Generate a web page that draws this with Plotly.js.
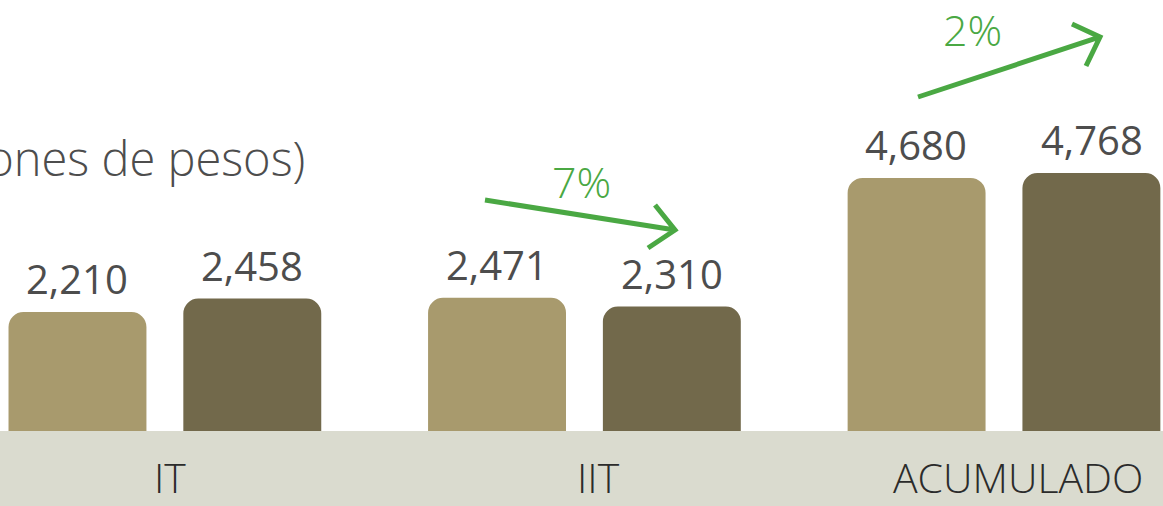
<!DOCTYPE html>
<html>
<head>
<meta charset="utf-8">
<script src="https://cdn.plot.ly/plotly-3.0.1.min.js"></script>
<style>html,body{margin:0;padding:0;background:#fff;overflow:hidden}#chart{width:1163px;height:506px}</style>
</head>
<body>
<div id="chart"></div>
<script>
// ---- data ----
const categories = ["IT", "IIT", "ACUMULADO"];
const seriesPrev = [2210, 2471, 4680];   // light bars
const seriesCurr = [2458, 2310, 4768];   // dark bars
const changeLabels = ["", "7%", "2%"];
const titleText = "(millones de pesos)";

// ---- styles ----
const lightColor = "#a89a6d";
const darkColor = "#72694b";
const bandColor = "#dadbcf";
const green = "#4aa843";
const textGray = "#4d4d4d";
const W = 1163, H = 506;
const px = v => v / W;
const py = v => 1 - v / H;

const fmt = v => v.toLocaleString("en-US");

const traces = [
  {type: "bar", x: categories, y: seriesPrev, marker: {color: lightColor, cornerradius: 15}, hoverinfo: "none", showlegend: false},
  {type: "bar", x: categories, y: seriesCurr, marker: {color: darkColor, cornerradius: 15}, hoverinfo: "none", showlegend: false}
];

const off = 0.2086;
const annotations = [];
categories.forEach((c, i) => {
  annotations.push({xref: "x", yref: "y", x: i - off, y: seriesPrev[i], text: fmt(seriesPrev[i]),
    showarrow: false, yanchor: "bottom", yshift: 4,
    font: {family: "Open Sans, Noto Sans, sans-serif", size: 40, color: textGray}});
  annotations.push({xref: "x", yref: "y", x: i + off, y: seriesCurr[i], text: fmt(seriesCurr[i]),
    showarrow: false, yanchor: "bottom", yshift: 4,
    font: {family: "Open Sans, Noto Sans, sans-serif", size: 40, color: textGray}});
});
const catShift = [5, 14, 14];
categories.forEach((c, i) => {
  annotations.push({xref: "x", yref: "paper", x: i, y: py(477), xshift: catShift[i], text: c,
    showarrow: false, yanchor: "middle",
    font: {family: "Open Sans, Noto Sans, sans-serif", size: 41, weight: 300, color: "#2b2b2b"}});
});
annotations.push({xref: "paper", yref: "paper", x: px(307), y: py(158), xanchor: "right", yanchor: "middle",
  text: titleText, showarrow: false,
  font: {family: "Open Sans, Noto Sans, sans-serif", size: 47, weight: 300, color: textGray}});
annotations.push({xref: "paper", yref: "paper", x: px(581), y: py(182), text: changeLabels[1], showarrow: false,
  yanchor: "middle", font: {family: "Open Sans, Noto Sans, sans-serif", size: 43, weight: 300, color: green}});
annotations.push({xref: "paper", yref: "paper", x: px(1004), y: py(29), text: changeLabels[2], showarrow: false,
  yanchor: "middle", font: {family: "Open Sans, Noto Sans, sans-serif", size: 43, weight: 300, color: green}});

function arrowPath(p) {
  const pt = ([a, b]) => px(a).toFixed(5) + "," + py(b).toFixed(5);
  return "M" + pt(p.start) + " L" + pt(p.tip) + " M" + pt(p.arm1) + " L" + pt(p.tip) + " L" + pt(p.arm2);
}
const arrows = [
  {start: [485, 200], tip: [675, 230], arm1: [655, 205], arm2: [648, 248]},
  {start: [918, 97], tip: [1100, 37], arm1: [1072, 24], arm2: [1086, 66]}
];

const shapes = [
  {type: "rect", xref: "paper", yref: "paper", x0: 0, x1: 1, y0: 0, y1: py(431), fillcolor: bandColor,
    line: {width: 0}, layer: "above"}
];
arrows.forEach(a => shapes.push({type: "path", xref: "paper", yref: "paper", path: arrowPath(a),
  line: {color: green, width: 5}, layer: "above"}));

const layout = {
  width: W, height: H,
  margin: {l: 0, r: 0, t: 0, b: 0},
  paper_bgcolor: "#ffffff", plot_bgcolor: "#ffffff",
  barmode: "group", bargap: 0.1667, bargroupgap: 0.211,
  xaxis: {type: "category", range: [-0.393, 2.379], showticklabels: false, showgrid: false, zeroline: false, showline: false, fixedrange: true},
  yaxis: {range: [-1363, 7956], showticklabels: false, showgrid: false, zeroline: false, showline: false, fixedrange: true},
  annotations: annotations,
  shapes: shapes,
  showlegend: false
};

Plotly.newPlot("chart", traces, layout, {displayModeBar: false, staticPlot: true});
</script>
</body>
</html>
